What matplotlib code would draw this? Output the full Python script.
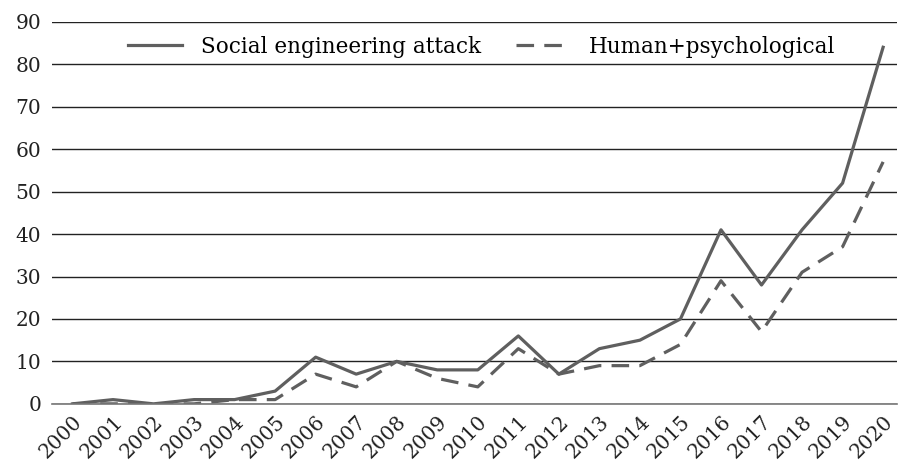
import matplotlib
matplotlib.use("Agg")
import matplotlib.pyplot as plt

# -----------------------------
# Data
# -----------------------------
years = [str(y) for y in range(2000, 2021)]
social_engineering = [0, 1, 0, 1, 1, 3, 11, 7, 10, 8, 8, 16, 7, 13, 15, 20, 41, 28, 41, 52, 84]
human_psych = [0, 0, 0, 0, 1, 1, 7, 4, 10, 6, 4, 13, 7, 9, 9, 14, 29, 17, 31, 37, 57]
y_ticks = list(range(0, 100, 10))

plt.rcParams['font.family'] = ['DejaVu Serif']
line_color = '#5f5f5f'

fig = plt.figure(figsize=(9, 4.74), dpi=100)
ax = fig.add_axes([0.058, 0.148, 0.939, 0.806])

x = list(range(len(years)))
ax.plot(x, social_engineering, color=line_color, lw=2.3, label='Social engineering attack')
ax.plot(x, human_psych, color=line_color, lw=2.3, ls=(0, (5.5, 3.2)), label='Human+psychological')

ax.set_ylim(0, 90)
ax.set_yticks(y_ticks)
ax.set_xlim(-0.5, len(years) - 0.65)
ax.set_xticks(x)
ax.set_xticklabels(years, rotation=45, ha='right', rotation_mode='anchor')

ax.grid(axis='y', color='#222222', lw=1.0)
ax.set_axisbelow(True)
for s in ['top', 'right', 'left']:
    ax.spines[s].set_visible(False)
ax.spines['bottom'].set_color('#777777')
ax.spines['bottom'].set_linewidth(1.2)
ax.tick_params(axis='both', length=0, labelsize=14.5, colors='#222222')
ax.tick_params(axis='y', pad=8)
ax.tick_params(axis='x', pad=6)

ax.legend(loc='center', ncol=2, frameon=False, fontsize=15.5,
          bbox_to_anchor=(0.508, 0.935), handlelength=2.5, handletextpad=0.9,
          columnspacing=1.6)

fig.savefig('out.png', dpi=100)
